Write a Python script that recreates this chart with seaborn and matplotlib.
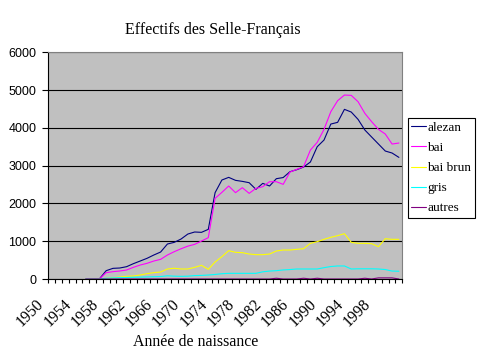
import numpy as np
import pandas as pd
import matplotlib
matplotlib.use('Agg')
import matplotlib.pyplot as plt
import matplotlib.transforms as mtransforms
import seaborn as sns

# Données : effectifs par année de naissance
years = list(range(1955, 2002))

alezan = [0, 0, 0, 220, 282, 291, 326, 406, 476, 547, 635, 714, 926, 970, 1058, 1190,
          1244, 1235, 1314, 2285, 2620, 2690, 2611, 2584, 2549, 2373, 2531, 2461, 2655,
          2685, 2840, 2893, 2964, 3096, 3501, 3678, 4101, 4146, 4490, 4419, 4225, 3943,
          3757, 3572, 3387, 3334, 3219]
bai = [0, 0, 0, 168, 194, 212, 238, 309, 370, 415, 476, 520, 635, 723, 800, 870,
       917, 1005, 1094, 2134, 2293, 2461, 2285, 2417, 2267, 2399, 2443, 2575, 2575,
       2505, 2830, 2902, 2973, 3413, 3616, 3960, 4428, 4719, 4869, 4860, 4692, 4384,
       4163, 3960, 3837, 3572, 3599]
bai_brun = [0, 0, 0, 18, 35, 53, 71, 79, 106, 141, 168, 185, 265, 285, 265, 265,
            309, 362, 256, 450, 591, 750, 706, 697, 661, 644, 644, 661, 741,
            767, 767, 785, 802, 944, 988, 1050, 1103, 1147, 1200, 970, 944, 944,
            935, 855, 1067, 1050, 1050]
gris = [0, 0, 0, 20, 30, 35, 40, 45, 50, 55, 60, 65, 85, 75, 70, 75,
        90, 95, 105, 120, 140, 150, 150, 150, 150, 150, 190, 210, 220,
        240, 250, 265, 265, 265, 265, 300, 330, 345, 345, 265, 270, 270,
        270, 265, 250, 210, 205]
autres = [0, 0, 0, 0, 0, 0, 0, 0, 0, 0, 0, 0, 0, 0, 0, 0,
          0, 0, 0, 0, 0, 0, 0, 0, 0, 0, 0, 0, 20,
          0, 0, 0, 20, 0, 20, 0, 0, 0, 0, 0, 0, 20,
          0, 30, 30, 30, 0]

series = ['alezan', 'bai', 'bai brun', 'gris', 'autres']
colors = ['#000080', '#FF00FF', '#FFFF00', '#00FFFF', '#800080']
label_years = list(range(1950, 2002, 4))

df = pd.DataFrame({
    'Année': years * 5,
    'Effectif': alezan + bai + bai_brun + gris + autres,
    'Robe': sum([[s] * len(years) for s in series], []),
})

sns.set_style('white')
plt.rcParams['font.family'] = ['Liberation Serif', 'DejaVu Serif']
plt.rcParams['text.color'] = 'black'
plt.rcParams['xtick.color'] = 'black'
plt.rcParams['ytick.color'] = 'black'

fig, ax = plt.subplots(figsize=(4.79, 3.59), dpi=100)
fig.subplots_adjust(left=48.3 / 479, right=402.3 / 479, top=1 - 52.3 / 359, bottom=1 - 279 / 359)

sns.lineplot(data=df, x='Année', y='Effectif', hue='Robe', hue_order=series,
             palette=dict(zip(series, colors)), linewidth=0.8, estimator=None, ax=ax)

ax.set_facecolor('#C0C0C0')
ax.set_xlim(1949.5, 2001.5)
ax.set_ylim(0, 6000)
ax.set_xlabel('')
ax.set_ylabel('')

# grille horizontale noire
ax.set_yticks(range(0, 7000, 1000))
ax.yaxis.grid(True, color='black', linewidth=0.8)
ax.xaxis.grid(False)
ax.set_axisbelow(True)

# graduations x entre les catégories, étiquettes tous les 4 ans
ax.set_xticks(np.arange(1949.5, 2002, 1))
ax.set_xticklabels([])
ax.set_xticks(label_years, minor=True)
ax.set_xticklabels([str(y) for y in label_years], minor=True, rotation=45,
                   ha='right', va='top', fontsize=11.4)
ax.tick_params(axis='x', which='major', direction='out', length=3, width=0.8,
               color='black', bottom=True)
ax.tick_params(axis='x', which='minor', length=0, pad=12)
shift = mtransforms.ScaledTranslation(-4.5 / 100, 0, fig.dpi_scale_trans)
for lab in ax.get_xticklabels(minor=True):
    lab.set_transform(lab.get_transform() + shift)

ax.tick_params(axis='y', direction='out', length=4, width=0.8, color='black',
               pad=4.5, left=True)
for lab in ax.get_yticklabels():
    lab.set_fontfamily('Liberation Sans')
    lab.set_fontsize(9)

for side in ['left', 'bottom']:
    ax.spines[side].set_color('black')
    ax.spines[side].set_linewidth(0.8)
for side in ['top', 'right']:
    ax.spines[side].set_color('#808080')
    ax.spines[side].set_linewidth(0.8)

handles, labels = ax.get_legend_handles_labels()
ax.get_legend().remove()
leg = fig.legend(handles, labels, loc='upper left',
                 bbox_to_anchor=(407.7 / 479, 1 - 118.3 / 359),
                 frameon=True, fancybox=False, edgecolor='black', framealpha=1,
                 borderpad=0.25, borderaxespad=0, handlelength=1.15,
                 handletextpad=0.1, labelspacing=0.6, labelcolor='black',
                 prop={'family': 'Liberation Serif', 'size': 9.5})
leg.get_frame().set_linewidth(0.8)
for h in leg.get_lines():
    h.set_linewidth(0.8)

fig.text(213 / 479, 1 - 34 / 359, 'Effectifs des Selle-Français', ha='center',
         va='baseline', fontsize=11.5)
fig.text(196 / 479, 1 - 346 / 359, 'Année de naissance', ha='center',
         va='baseline', fontsize=11.4)

fig.savefig('out.png', dpi=100)
